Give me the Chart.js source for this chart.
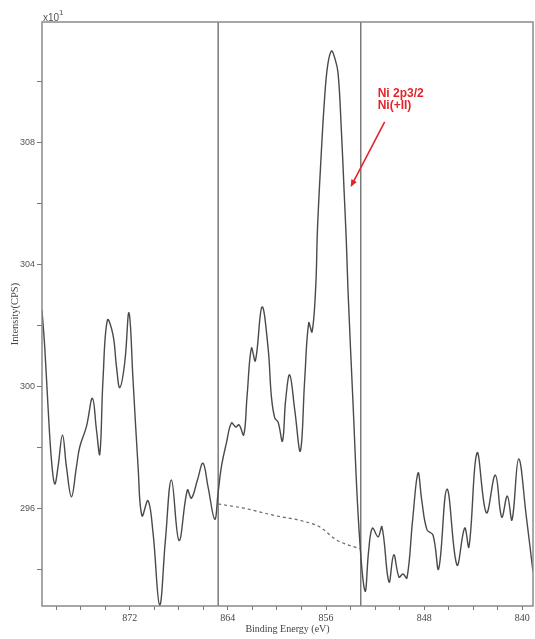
<!DOCTYPE html>
<html>
<head>
<meta charset="utf-8">
<title>Ni 2p3/2 XPS</title>
<script src="https://cdn.jsdelivr.net/npm/chart.js@4.4.1/dist/chart.umd.min.js"></script>
<style>
html, body { margin: 0; padding: 0; background: #fff; }
#wrap { width: 535px; height: 639px; }
</style>
</head>
<body>
<div id="wrap"><canvas id="chart-xps" width="535" height="639"></canvas></div>
<script>
'use strict';

// spectrum (binding energy eV, intensity x10^1 CPS)
var energy = [
    879.15, 878.93, 878.66, 878.38, 878.11, 877.84, 877.48, 877.16, 876.75, 876.34,
    876.07, 875.53, 875.04, 874.71, 874.44, 874.18, 873.82, 873.36, 873.08, 872.81,
    872.41, 872.06, 871.73, 871.32, 871.00, 870.51, 870.10, 869.56, 869.09, 868.60,
    867.98, 867.30, 866.97, 866.48, 866.03, 865.62, 865.07, 864.80, 864.53, 864.12,
    863.71, 863.36, 863.09, 862.71, 862.44, 862.08, 861.76, 861.22, 860.73, 860.45,
    860.18, 859.91, 859.55, 859.29, 858.96, 858.55, 858.09, 857.74, 857.41, 857.14,
    856.84, 856.70, 856.43, 856.11, 855.86, 855.56, 855.29, 855.02, 854.75, 854.53,
    854.34, 854.21, 853.80, 853.31, 852.82, 852.52, 852.22, 851.76, 851.44, 850.87,
    850.48, 850.05, 849.73, 849.40, 848.94, 848.50, 848.20, 847.77, 847.28, 846.82,
    846.14, 845.33, 844.70, 844.35, 843.69, 842.93, 842.20, 841.68, 841.22, 840.84,
    840.30, 839.67, 839.13
];
var intensity = [
    302.51, 301.31, 299.34, 297.59, 296.80, 297.37, 298.41, 297.37, 296.38, 297.37,
    298.02, 298.68, 299.61, 298.57, 297.78, 300.21, 302.18, 301.69, 300.65, 299.96,
    300.77, 302.42, 300.21, 297.37, 295.75, 296.25, 295.19, 292.82, 294.96, 296.93,
    294.94, 296.60, 296.33, 296.93, 297.48, 296.71, 295.64, 296.50, 297.36, 298.14,
    298.80, 298.67, 298.74, 298.41, 299.66, 301.26, 300.84, 302.61, 301.30, 299.66,
    298.97, 298.83, 298.21, 299.56, 300.38, 299.23, 297.88, 300.21, 302.09, 301.79,
    303.27, 305.14, 307.34, 309.51, 310.56, 311.02, 310.79, 310.30, 308.42, 306.45,
    304.71, 303.17, 299.46, 295.29, 293.28, 294.63, 295.35, 295.06, 295.39, 293.58,
    294.47, 293.74, 293.84, 293.71, 295.62, 297.16, 296.27, 295.29, 295.12, 294.01,
    296.63, 294.14, 295.35, 294.73, 297.82, 295.85, 297.09, 295.71, 296.40, 295.62,
    297.62, 295.71, 293.91
];

// background under the Ni 2p3/2 peak
var baseEnergy = [864.79, 862.79, 860.04, 857.90, 856.52, 855.15, 853.17];
var baseIntensity = [296.14, 296.01, 295.75, 295.58, 295.39, 294.96, 294.66];

// integration limits
var limitEnergy = [864.79, 853.17];

var xTicks = [878, 876, 874, 872, 870, 868, 866, 864, 862, 860, 858, 856, 854, 852, 850, 848, 846, 844, 842, 840];
var xLabels = [872, 864, 856, 848, 840];
var yTicks = [294, 296, 298, 300, 302, 304, 306, 308, 310];
var yLabels = [296, 300, 304, 308];
var xRange = [839.13, 879.15];
var yRange = [292.79, 311.97];

var peakText = ['Ni 2p3/2', 'Ni(+II)'];
var peakTextAt = [851.79, 309.5];
var arrowFrom = [851.22, 308.69];
var arrowTo = [853.99, 306.55];

function toPoints(xs, ys) {
    return xs.map(function(x, i) { return { x: x, y: ys[i] }; });
}

function limitLine(e) {
    return {
        data: [{ x: e, y: yRange[0] }, { x: e, y: yRange[1] }],
        borderColor: '#7a7a7a',
        borderWidth: 1.5,
        pointRadius: 0,
        tension: 0
    };
}

var framePlugin = {
    id: 'frame',
    afterDraw: function(chart) {
        var ctx = chart.ctx;
        var a = chart.chartArea;
        var sx = chart.scales.x, sy = chart.scales.y;
        ctx.save();
        ctx.strokeStyle = '#8a8a8a';
        ctx.lineWidth = 1.5;
        ctx.strokeRect(a.left, a.top, a.right - a.left, a.bottom - a.top);

        // exponent label
        ctx.fillStyle = '#555';
        ctx.font = '10px "Liberation Sans", Arial, sans-serif';
        ctx.textBaseline = 'alphabetic';
        ctx.fillText('x10', a.left + 1, a.top - 1);
        ctx.font = '8px "Liberation Sans", Arial, sans-serif';
        ctx.fillText('1', a.left + 17, a.top - 7);

        // peak annotation
        var red = '#e3252b';
        var x0 = sx.getPixelForValue(arrowFrom[0]), y0 = sy.getPixelForValue(arrowFrom[1]);
        var x1 = sx.getPixelForValue(arrowTo[0]), y1 = sy.getPixelForValue(arrowTo[1]);
        var ang = Math.atan2(y1 - y0, x1 - x0);
        ctx.strokeStyle = red;
        ctx.fillStyle = red;
        ctx.lineWidth = 1.6;
        ctx.beginPath();
        ctx.moveTo(x0, y0);
        ctx.lineTo(x1 - 5 * Math.cos(ang), y1 - 5 * Math.sin(ang));
        ctx.stroke();
        ctx.beginPath();
        ctx.moveTo(x1, y1);
        ctx.lineTo(x1 - 8 * Math.cos(ang - 0.4), y1 - 8 * Math.sin(ang - 0.4));
        ctx.lineTo(x1 - 8 * Math.cos(ang + 0.4), y1 - 8 * Math.sin(ang + 0.4));
        ctx.closePath();
        ctx.fill();

        ctx.font = 'bold 12px "Liberation Sans", Arial, sans-serif';
        var tx = sx.getPixelForValue(peakTextAt[0]), ty = sy.getPixelForValue(peakTextAt[1]);
        peakText.forEach(function(t, i) { ctx.fillText(t, tx, ty + i * 11.5); });
        ctx.restore();
    }
};

var datasets = [
    {
        data: toPoints(energy, intensity),
        borderColor: '#4a4a4a',
        borderWidth: 1.4,
        pointRadius: 0,
        tension: 0.4
    },
    {
        data: toPoints(baseEnergy, baseIntensity),
        borderColor: '#666',
        borderWidth: 1.2,
        borderDash: [3, 3],
        pointRadius: 0,
        cubicInterpolationMode: 'monotone'
    },
    limitLine(limitEnergy[0]),
    limitLine(limitEnergy[1])
];

new Chart(document.getElementById('chart-xps'), {
    type: 'line',
    data: { datasets: datasets },
    options: {
        responsive: false,
        devicePixelRatio: 1,
        animation: false,
        layout: { padding: { top: 22, right: 2, left: 0, bottom: 0 } },
        plugins: { legend: { display: false }, tooltip: { enabled: false } },
        scales: {
            x: {
                type: 'linear',
                reverse: true,
                min: xRange[0],
                max: xRange[1],
                afterBuildTicks: function(s) { s.ticks = xTicks.map(function(v) { return { value: v }; }); },
                afterFit: function(s) { s.height = 33; },
                grid: { drawOnChartArea: false, drawTicks: true, tickLength: 4, color: '#777' },
                border: { display: false },
                ticks: {
                    autoSkip: false,
                    maxRotation: 0,
                    padding: 2,
                    color: '#444',
                    font: { family: '"Liberation Serif", "Times New Roman", serif', size: 10 },
                    callback: function(v) { return xLabels.indexOf(v) >= 0 ? String(v) : ''; }
                },
                title: {
                    display: true,
                    text: 'Binding Energy (eV)',
                    color: '#444',
                    padding: { top: 0, bottom: 4 },
                    font: { family: '"Liberation Serif", "Times New Roman", serif', size: 10 }
                }
            },
            y: {
                min: yRange[0],
                max: yRange[1],
                afterBuildTicks: function(s) { s.ticks = yTicks.map(function(v) { return { value: v }; }); },
                afterFit: function(s) { s.width = 42; },
                grid: { drawOnChartArea: false, drawTicks: true, tickLength: 5, color: '#777' },
                border: { display: false },
                ticks: {
                    autoSkip: false,
                    padding: 2,
                    color: '#555',
                    font: { family: '"Liberation Sans", Arial, sans-serif', size: 9 },
                    callback: function(v) { return yLabels.indexOf(v) >= 0 ? String(v) : ''; }
                },
                title: {
                    display: true,
                    text: 'Intensity(CPS)',
                    color: '#444',
                    padding: { top: 9, bottom: 0 },
                    font: { family: '"Liberation Serif", "Times New Roman", serif', size: 10.5 }
                }
            }
        }
    },
    plugins: [framePlugin]
});
</script>
</body>
</html>
